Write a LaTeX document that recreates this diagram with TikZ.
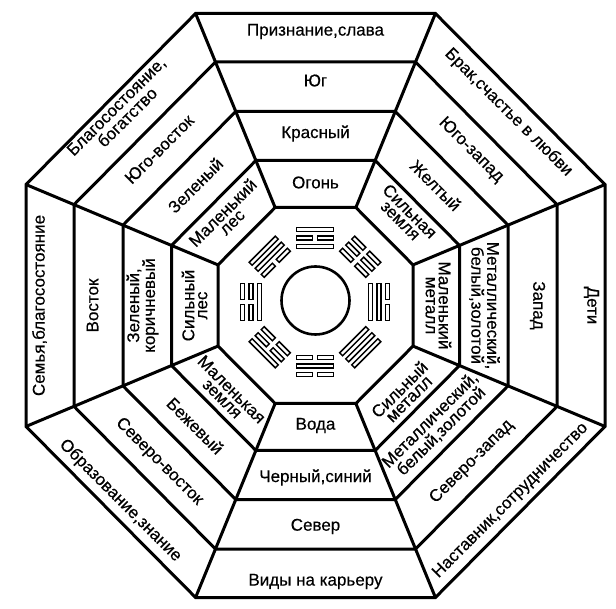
\documentclass[tikz,border=0pt]{standalone}
\usepackage{fontspec}
\setmainfont{Liberation Sans}
\newfontfamily\lblfont{Liberation Sans}[FakeBold=0.4]
\begin{document}
\begin{tikzpicture}[x=1pt,y=-1pt,
  wall/.style={line width=3pt, line join=miter},
  lbl/.style={font=\lblfont\fontsize{17}{13}\selectfont, align=center, inner sep=0pt},
  bar/.style={line width=1.45pt}]
\useasboundingbox (0,0) rectangle (616,609);
\fill[white] (0,0) rectangle (616,609);
\def\cx{315.5}\def\cy{305.5}\def\tg{0.41421}
\foreach \i/\ax/\ay in {0/97.5/98,1/144/145,2/192.5/194,3/241.5/243.5,4/289.5/292}{
  \coordinate (v\i-1) at ({\cx-\ax*\tg},{\cy-\ay});
  \coordinate (v\i-2) at ({\cx+\ax*\tg},{\cy-\ay});
  \coordinate (v\i-3) at ({\cx+\ax},{\cy-\ay*\tg});
  \coordinate (v\i-4) at ({\cx+\ax},{\cy+\ay*\tg});
  \coordinate (v\i-5) at ({\cx+\ax*\tg},{\cy+\ay});
  \coordinate (v\i-6) at ({\cx-\ax*\tg},{\cy+\ay});
  \coordinate (v\i-7) at ({\cx-\ax},{\cy+\ay*\tg});
  \coordinate (v\i-8) at ({\cx-\ax},{\cy-\ay*\tg});
  \draw[wall] (v\i-1)--(v\i-2)--(v\i-3)--(v\i-4)--(v\i-5)--(v\i-6)--(v\i-7)--(v\i-8)--cycle;
}
\foreach \k in {1,...,8} \draw[wall] (v0-\k)--(v4-\k);
% centre circle
\draw[line width=2.6pt] (315.5,300.5) circle[radius=34];
% trigrams
\newcommand\tbar[2]{%
 \ifnum#2=1 \draw[bar] (-18.5,#1-2.1) rectangle (18.5,#1+2.1);%
 \else \draw[bar] (-18.5,#1-2.1) rectangle (-2.7,#1+2.1);%
   \draw[bar] (2.7,#1-2.1) rectangle (18.5,#1+2.1);\fi}
\newcommand\trig[6]{%
 \begin{scope}[shift={({315+#1*64},{302+#2*64})}, rotate=#3]
 \tbar{8.5}{#4}\tbar{0}{#5}\tbar{-8.5}{#6}
 \end{scope}}
\trig{0}{-1}{0}{1}{0}{1}
\trig{.7071}{-.7071}{-45}{0}{0}{0}
\trig{1}{0}{-90}{1}{1}{0}
\trig{.7071}{.7071}{-135}{1}{1}{1}
\trig{0}{1}{180}{0}{1}{0}
\trig{-.7071}{.7071}{135}{0}{0}{1}
\trig{-1}{0}{90}{1}{0}{0}
\trig{-.7071}{-.7071}{45}{0}{1}{1}
% labels
\newcommand\lab[6]{\node[lbl,rotate=#5] (#1) at ({\cx+#2*#4},{\cy+#3*#4}) {#6};}
\lab{s1}{0}{-1}{123}{0}{Огонь}
\lab{s2}{0}{-1}{172}{0}{Красный}
\lab{s3}{0}{-1}{225}{0}{Юг}
\lab{s4}{0}{-1}{274}{0}{Признание,слава}
\lab{n1}{0}{1}{120}{0}{Вода}
\lab{n2}{0}{1}{172}{0}{Черный,синий}
\lab{n3}{0}{1}{221}{0}{Север}
\lab{n4}{0}{1}{276}{0}{Виды на карьеру}
\lab{w1}{1}{0}{123}{-90}{Маленький\\металл}
\lab{w2}{1}{0}{169}{-90}{Металлический,\\белый,золотой}
\lab{w3}{1}{0}{222}{-90}{Запад}
\lab{w4}{1}{0}{276}{-90}{Дети}
\lab{e1}{-1}{0}{121}{90}{Сильный\\лес}
\lab{e2}{-1}{0}{173}{90}{Зеленый,\\коричневый}
\lab{e3}{-1}{0}{223}{90}{Восток}
\lab{e4}{-1}{0}{276}{90}{Семья,благосостояние}
\lab{sw1}{.7071}{-.7071}{127}{-45}{Сильная\\земля}
\lab{sw2}{.7071}{-.7071}{170}{-45}{Желтый}
\lab{sw3}{.7071}{-.7071}{220}{-45}{Юго-запад}
\lab{sw4}{.7071}{-.7071}{273}{-45}{Брак,счастье в любви}
\lab{nw1}{.7071}{.7071}{125}{45}{Сильный\\металл}
\lab{nw2}{.7071}{.7071}{170}{45}{Металлический,\\белый,золотой}
\lab{nw3}{.7071}{.7071}{221}{45}{Северо-запад}
\lab{nw4}{.7071}{.7071}{276}{45}{Наставник,сотрудничество}
\lab{ne1}{-.7071}{.7071}{125}{-45}{Маленькая\\земля}
\lab{ne2}{-.7071}{.7071}{170}{-45}{Бежевый}
\lab{ne3}{-.7071}{.7071}{221}{-45}{Северо-восток}
\lab{ne4}{-.7071}{.7071}{276}{-45}{Образование,знание}
\lab{se1}{-.7071}{-.7071}{125}{45}{Маленький\\лес}
\lab{se2}{-.7071}{-.7071}{170}{45}{Зеленый}
\lab{se3}{-.7071}{-.7071}{221}{45}{Юго-восток}
\lab{se4}{-.7071}{-.7071}{274}{45}{Благосостояние,\\богатство}
\end{tikzpicture}
\end{document}
